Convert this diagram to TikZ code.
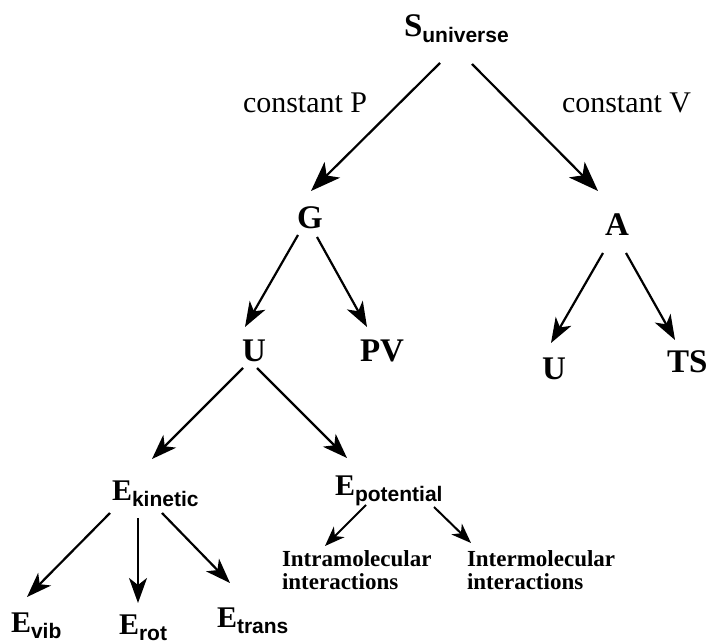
\documentclass[tikz,border=0pt]{standalone}
\usepackage{fontspec}
\setmainfont{Liberation Serif}
\setsansfont{Liberation Sans}
\usetikzlibrary{arrows.meta}
\newcommand{\lowsub}[1]{\raisebox{-6pt}{\fontsize{21}{21}\selectfont\sffamily\bfseries #1}}

\begin{document}
\begin{tikzpicture}[x=1pt,y=-1pt,
    every node/.style={inner sep=0pt,outer sep=0pt,anchor=base west},
    quantity/.style={font=\fontsize{33}{36}\selectfont\bfseries},
    energy/.style={font=\fontsize{30}{32}\selectfont\bfseries},
    condition/.style={font=\fontsize{30}{34}\selectfont},
    interaction/.style={font=\fontsize{23}{23}\selectfont\bfseries,align=left,anchor=north west},
    bigarrow/.style={line width=2.2pt,-{Stealth[length=30pt,width=22pt,inset=8pt]}},
    arrow/.style={line width=2.2pt,-{Stealth[length=25pt,width=18pt,inset=7pt]}},
    smallarrow/.style={line width=2pt,-{Stealth[length=20pt,width=15pt,inset=6pt]}}]
    \useasboundingbox (0,0) rectangle (707,644);

    % top of the tree
    \node[quantity] (su) at (404,37) {S\lowsub{universe}};
    \node[condition] (cp) at (243,113) {constant P};
    \node[condition] (cv) at (562,113) {constant V};
    \node[quantity] (G) at (297,229) {G};
    \node[quantity] (A) at (605,236) {A};

    % second level
    \node[quantity] (U1) at (242,361) {U};
    \node[quantity] (PV) at (360,361) {PV};
    \node[quantity] (U2) at (542,380) {U};
    \node[quantity] (TS) at (667,373) {TS};

    % energies
    \node[energy] (Ek) at (112,500) {E\lowsub{kinetic}};
    \node[energy] (Ep) at (335,495) {E\lowsub{potential}};
    \node[energy] (Ev) at (11,632) {E\lowsub{vib}};
    \node[energy] (Er) at (119,634) {E\lowsub{rot}};
    \node[energy] (Et) at (217,627) {E\lowsub{trans}};
    \node[interaction] (intra) at (282,551) {Intramolecular\\interactions};
    \node[interaction] (inter) at (467,551) {Intermolecular\\interactions};

    \draw[bigarrow] ([shift={(36,26)}]su.base west) -- ([shift={(14,-38)}]G.base west);
    \draw[bigarrow] ([shift={(68,27)}]su.base west) -- ([shift={(-7,-45)}]A.base west);
    \draw[arrow] ([shift={(1,6)}]G.base west) -- ([shift={(3,-34)}]U1.base west);
    \draw[arrow] ([shift={(20,8)}]G.base west) -- ([shift={(7,-34)}]PV.base west);
    \draw[arrow] ([shift={(-2,17)}]A.base west) -- ([shift={(9,-37)}]U2.base west);
    \draw[arrow] ([shift={(21,17)}]A.base west) -- ([shift={(8,-33)}]TS.base west);
    \draw[arrow] ([shift={(1,7)}]U1.base west) -- ([shift={(40,-41)}]Ek.base west);
    \draw[arrow] ([shift={(15,7)}]U1.base west) -- ([shift={(12,-37)}]Ep.base west);
    \draw[arrow] ([shift={(-2,13)}]Ek.base west) -- ([shift={(16,-35)}]Ev.base west);
    \draw[arrow] ([shift={(26,18)}]Ek.base west) -- ([shift={(19,-31)}]Er.base west);
    \draw[arrow] ([shift={(50,13)}]Ek.base west) -- ([shift={(13,-44)}]Et.base west);
    \draw[smallarrow] ([shift={(31,10)}]Ep.base west) -- ([shift={(43,-5)}]intra.north west);
    \draw[smallarrow] ([shift={(99,12)}]Ep.base west) -- ([shift={(4,-8)}]inter.north west);
\end{tikzpicture}
\end{document}
